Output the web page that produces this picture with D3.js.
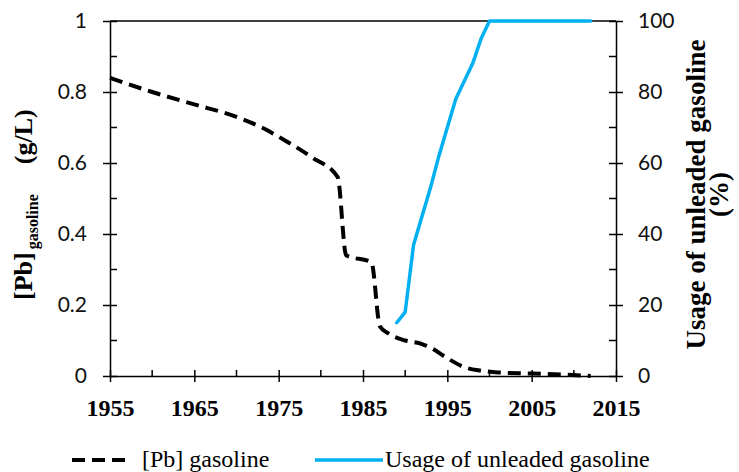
<!DOCTYPE html>
<html>
<head>
<meta charset="utf-8">
<script src="https://cdn.jsdelivr.net/npm/d3@7"></script>
<style>
  body { margin: 0; background: #fff; }
  svg { display: block; }
</style>
</head>
<body>
<svg id="chart" width="739" height="472"></svg>
<script>
// ── Data ──
const pbYears   = [1955, 1960, 1965, 1970, 1973, 1976, 1979, 1982, 1983, 1986, 1987, 1988, 1990, 1992, 1993, 1995, 1997, 1999, 2001, 2005, 2009, 2012];
const pbValues  = [0.84, 0.80, 0.765, 0.73, 0.70, 0.66, 0.615, 0.56, 0.34, 0.32, 0.14, 0.12, 0.10, 0.09, 0.08, 0.05, 0.025, 0.015, 0.01, 0.007, 0.004, 0.0];

const unlYears  = [1989, 1990, 1991, 1992, 1993, 1994, 1995, 1996, 1997, 1998, 1999, 2000, 2012];
const unlValues = [15, 18, 37, 45, 53, 62, 70, 78, 83, 88, 95, 100, 100];

const xTicks      = [1955, 1965, 1975, 1985, 1995, 2005, 2015];
const xMinor      = [1960, 1970, 1980, 1990, 2000, 2010];
const yLeftTicks  = [0, 0.2, 0.4, 0.6, 0.8, 1];
const yLeftMinor  = [0.1, 0.3, 0.5, 0.7, 0.9];
const yRightTicks = [0, 20, 40, 60, 80, 100];
const yRightMinor = [10, 30, 50, 70, 90];

const legendLabels = ["[Pb] gasoline", "Usage of unleaded gasoline"];

// ── Layout ──
const PLOT = { left: 110, right: 616, top: 21, bottom: 376 };
const BLUE = "#00B0F0";
const SERIF = "'Liberation Serif', 'Times New Roman', serif";
const SANS  = "Lato, 'Open Sans', sans-serif";

const svg = d3.select("#chart");

const x  = d3.scaleLinear().domain([1955, 2015]).range([PLOT.left, PLOT.right]);
const yL = d3.scaleLinear().domain([0, 1]).range([PLOT.bottom, PLOT.top]);
const yR = d3.scaleLinear().domain([0, 100]).range([PLOT.bottom, PLOT.top]);

// ── Top border ──
svg.append("line")
  .attr("x1", PLOT.left).attr("x2", PLOT.right)
  .attr("y1", PLOT.top).attr("y2", PLOT.top)
  .attr("stroke", "#000").attr("stroke-width", 1.5);

// ── Axes ──
function styleAxis(g) {
  g.select(".domain").attr("stroke", "#000").attr("stroke-width", 1.5);
  g.selectAll(".tick line").attr("stroke", "#000").attr("stroke-width", 1.5);
}

// left
const gL = svg.append("g")
  .attr("transform", `translate(${PLOT.left},0)`)
  .call(d3.axisLeft(yL).tickValues(yLeftTicks).tickSizeOuter(0).tickSizeInner(7).tickPadding(16)
    .tickFormat(d => d === 0 || d === 1 ? d3.format("d")(d) : d3.format(".1f")(d)));
styleAxis(gL);
gL.selectAll(".tick line").attr("x2", 7).attr("x1", -7);
gL.selectAll(".tick text").style("font-family", SANS).style("font-size", "21px").attr("fill", "#111");
yLeftMinor.forEach(v => {
  gL.append("line").attr("x1", 0).attr("x2", 7).attr("y1", yL(v)).attr("y2", yL(v))
    .attr("stroke", "#000").attr("stroke-width", 1.5);
});

// right
const gR = svg.append("g")
  .attr("transform", `translate(${PLOT.right},0)`)
  .call(d3.axisRight(yR).tickValues(yRightTicks).tickSizeOuter(0).tickSizeInner(7).tickPadding(15));
styleAxis(gR);
gR.selectAll(".tick line").attr("x1", -7).attr("x2", 7);
gR.selectAll(".tick text").style("font-family", SANS).style("font-size", "21px").attr("fill", "#111");
yRightMinor.forEach(v => {
  gR.append("line").attr("x1", -7).attr("x2", 0).attr("y1", yR(v)).attr("y2", yR(v))
    .attr("stroke", "#000").attr("stroke-width", 1.5);
});

// bottom
const gX = svg.append("g")
  .attr("transform", `translate(0,${PLOT.bottom})`)
  .call(d3.axisBottom(x).tickValues(xTicks).tickSizeOuter(0).tickSizeInner(6).tickPadding(17)
    .tickFormat(d3.format("d")));
styleAxis(gX);
gX.selectAll(".tick line").attr("y1", -6).attr("y2", 6);
gX.selectAll(".tick text")
  .style("font-family", SERIF).style("font-size", "24px").style("font-weight", "bold").attr("fill", "#000");
xMinor.forEach(v => {
  gX.append("line").attr("x1", x(v)).attr("x2", x(v)).attr("y1", -6).attr("y2", 0)
    .attr("stroke", "#000").attr("stroke-width", 1.5);
});

// ── Axis titles ──
// left title reads bottom-to-top, starting just above the 0.2 label
const tL = svg.append("text")
  .attr("transform", "translate(32,300) rotate(-90)")
  .attr("text-anchor", "start")
  .style("font-family", SERIF).style("font-weight", "bold").style("font-size", "26px");
tL.append("tspan").text("[Pb]");
tL.append("tspan").attr("dx", 3).attr("dy", 6).style("font-size", "16px").text("gasoline");
tL.append("tspan").attr("dx", 30).attr("dy", -6).text("(g/L)");

const tR = svg.append("text")
  .attr("transform", `translate(705,${(PLOT.top + PLOT.bottom) / 2 - 4}) rotate(-90)`)
  .attr("text-anchor", "middle")
  .style("font-family", SERIF).style("font-weight", "bold").style("font-size", "27px");
tR.append("tspan").attr("x", 0).attr("y", 0).text("Usage of unleaded gasoline");
tR.append("tspan").attr("x", 0).attr("y", 23).text("(%)");

// ── Series ──
const pbData  = pbYears.map((yr, i) => ({ x: yr, y: pbValues[i] }));
const unlData = unlYears.map((yr, i) => ({ x: yr, y: unlValues[i] }));

const linePb = d3.line().x(d => x(d.x)).y(d => yL(d.y)).curve(d3.curveMonotoneX);
const lineUn = d3.line().x(d => x(d.x)).y(d => yR(d.y));

svg.append("path").datum(pbData)
  .attr("fill", "none").attr("stroke", "#000")
  .attr("stroke-width", 4).attr("stroke-dasharray", "13 7")
  .attr("stroke-linejoin", "round")
  .attr("d", linePb);

svg.append("path").datum(unlData)
  .attr("fill", "none").attr("stroke", BLUE)
  .attr("stroke-width", 3.5).attr("stroke-linejoin", "round").attr("stroke-linecap", "round")
  .attr("d", lineUn);

// ── Legend ──
const LY = 460;
svg.append("line")
  .attr("x1", 72).attr("x2", 127).attr("y1", LY).attr("y2", LY)
  .attr("stroke", "#000").attr("stroke-width", 4).attr("stroke-dasharray", "13 7");
svg.append("text").attr("x", 142).attr("y", LY + 7)
  .style("font-family", SERIF).style("font-size", "24px").text(legendLabels[0]);

svg.append("line")
  .attr("x1", 315).attr("x2", 383).attr("y1", LY).attr("y2", LY)
  .attr("stroke", BLUE).attr("stroke-width", 3.5);
svg.append("text").attr("x", 385).attr("y", LY + 7)
  .style("font-family", SERIF).style("font-size", "24px").text(legendLabels[1]);
</script>
</body>
</html>
